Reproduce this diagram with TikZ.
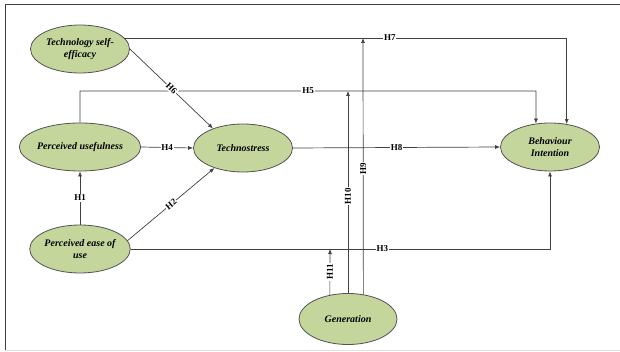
\documentclass[tikz,border=0pt]{standalone}
\usepackage{fontspec}
\setmainfont{Liberation Serif}
\usetikzlibrary{shapes.geometric,arrows.meta}
\definecolor{olive}{RGB}{196,214,155}
\definecolor{edge}{RGB}{64,64,64}
\begin{document}
\begin{tikzpicture}[x=1pt,y=-1pt,
	main/.style = {draw=edge!90, ellipse, fill=olive, line width=0.8pt, minimum width=99pt, minimum height=48pt, inner sep=0pt, align=center, font=\fontsize{10}{11.5}\selectfont\bfseries\itshape},
	arr/.style = {draw=edge, line width=0.7pt, -{Latex[length=5pt,width=4pt]}},
	lab/.style = {fill=white, inner sep=0.8pt, font=\fontsize{9}{10}\selectfont\bfseries}]
	\useasboundingbox (0,0) rectangle (620,352);
	\draw[edge, line width=0.6pt] (620,4) -- (5,4) -- (5,350);
	\draw[black!12, line width=0.8pt] (5,350) -- (620,350);
	\node[main] (tse) at (80,49) {Technology self-\\efficacy};
	\node[main] (pu) at (80,147) {Perceived usefulness};
	\node[main] (ts) at (243,148) {Technostress};
	\node[main] (peou) at (80,249) {Perceived ease of\\use};
	\node[main] (bi) at (550,147) {Behaviour\\Intention};
	\node[main, minimum width=98pt, minimum height=51pt] (gen) at (348,319) {Generation};
	\coordinate (c5a) at (80,91);
	\coordinate (c5b) at (536,91);
	\coordinate (h9) at (363,38);
	\coordinate (h10) at (348,91);
	\coordinate (h11) at (330,249);
	\draw[arr] (peou.north) -- node[lab] {H1} (pu.south);
	\draw[arr] (peou.10) -- node[lab, sloped] {H2} (ts.215);
	\draw[arr] (peou.east) -| node[lab, pos=0.3] {H3} (bi.south);
	\draw[arr] (pu.east) -- node[lab] {H4} (ts.west);
	\draw[arr] (pu.north) -- (c5a) -- node[lab] {H5} (c5b) -- (bi.121);
	\draw[arr] (tse.east) -- node[lab, sloped] {H6} (ts.147);
	\draw[arr] (tse.14) -| node[lab, pos=0.3] {H7} (bi.54);
	\draw[arr] (ts.east) -- node[lab] {H8} (bi.west);
	\draw[arr] (gen.58) -- node[lab, rotate=90, pos=0.49] {H9} (h9);
	\draw[arr] (gen.north) -- node[lab, rotate=90, pos=0.48] {H10} (h10);
	\draw[arr] (gen.127) -- node[lab, rotate=90] {H11} (h11);
\end{tikzpicture}
\end{document}
